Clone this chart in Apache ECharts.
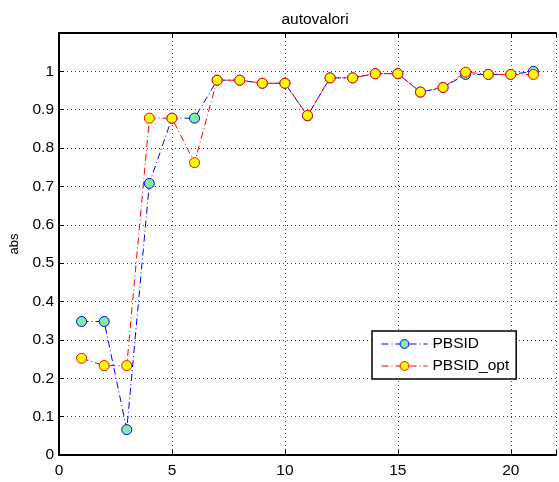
<!DOCTYPE html>
<html>
<head>
<meta charset="utf-8">
<script src="https://cdn.jsdelivr.net/npm/echarts@6/dist/echarts.min.js"></script>
<style>
  html, body { margin: 0; padding: 0; background: #fff; }
  #chart { width: 559px; height: 482px; }
</style>
</head>
<body>
<div id="chart"></div>
<script>
// Eigenvalue magnitudes per index for the two identification methods
const indices = [1, 2, 3, 4, 5, 6, 7, 8, 9, 10, 11, 12, 13, 14, 15, 16, 17, 18, 19, 20, 21];
const pbsid = [0.348, 0.348, 0.066, 0.708, 0.878, 0.878, 0.977, 0.977, 0.969, 0.969, 0.884,
               0.983, 0.983, 0.994, 0.994, 0.946, 0.958, 0.992, 0.992, 0.992, 1.0];
const pbsidOpt = [0.252, 0.233, 0.233, 0.878, 0.878, 0.762, 0.977, 0.977, 0.969, 0.969, 0.885,
                  0.983, 0.983, 0.994, 0.994, 0.946, 0.958, 0.998, 0.992, 0.992, 0.992];
const seriesNames = ['PBSID', 'PBSID_opt'];
const chartTitle = 'autovalori';
const yName = 'abs';

const FONT = 'Liberation Sans, Arial, Helvetica, sans-serif';
const FS = 15.5;
const pair = (xs, ys) => xs.map((x, i) => [x, ys[i]]);

// marker and line styles shared by the plot and the legend
const styles = [
  { fill: '#7ff0a0', edge: '#0000ff' },
  { fill: '#ffff00', edge: '#ff0000' }
];
const dashDot = [7, 3, 1, 3];

const chart = echarts.init(document.getElementById('chart'), null, { renderer: 'canvas' });

const dotted = { show: true, lineStyle: { color: '#444', width: 1, type: [1, 3] } };

chart.setOption({
  animation: false,
  backgroundColor: '#fff',
  textStyle: { fontFamily: FONT },
  title: {
    text: chartTitle,
    left: 310,
    textAlign: 'center',
    top: 7,
    textStyle: { fontFamily: FONT, fontSize: FS, fontWeight: 'normal', color: '#000' }
  },
  grid: {
    left: 57, top: 33, width: 506, height: 422,
    show: false
  },
  legend: {
    orient: 'vertical',
    left: 372,
    top: 331,
    padding: [5, 7, 5, 9],
    itemGap: 6,
    itemWidth: 46,
    itemHeight: 11,
    borderColor: '#000',
    borderWidth: 1.5,
    backgroundColor: '#fff',
    textStyle: { fontFamily: FONT, fontSize: FS, color: '#000', lineHeight: 16 },
    data: seriesNames.map((name, i) => ({
      name,
      itemStyle: { color: styles[i].fill, borderColor: styles[i].edge, borderWidth: 1 },
      lineStyle: { color: styles[i].edge, width: 1, type: dashDot }
    }))
  },
  xAxis: [{
    type: 'value',
    min: 0, max: 22, interval: 5,
    axisLine: { show: true, onZero: false, lineStyle: { color: '#000', width: 2 } },
    axisTick: { show: true, inside: true, length: 5, lineStyle: { color: '#000', width: 1 } },
    axisLabel: {
      fontFamily: FONT, fontSize: FS, color: '#000', margin: 8,
      formatter: v => (v % 5 === 0 ? String(v) : '')
    },
    splitLine: dotted
  }, {
    type: 'value',
    position: 'top',
    min: 0, max: 22, interval: 5,
    axisLine: { show: true, onZero: false, lineStyle: { color: '#000', width: 2 } },
    axisTick: { show: true, inside: true, length: 5, lineStyle: { color: '#000', width: 1 } },
    axisLabel: { show: false },
    splitLine: { show: false }
  }],
  yAxis: {
    type: 'value',
    min: 0, max: 1.1, interval: 0.1,
    name: yName,
    nameLocation: 'middle',
    nameRotate: 90,
    nameGap: 38,
    nameTextStyle: { fontFamily: FONT, fontSize: 13, color: '#000' },
    axisLine: { show: true, onZero: false, lineStyle: { color: '#000', width: 2 } },
    axisTick: { show: true, inside: true, length: 5, lineStyle: { color: '#000', width: 1 } },
    axisLabel: {
      fontFamily: FONT, fontSize: FS, color: '#000', margin: 5,
      formatter: v => (v > 1.05 ? '' : String(Math.round(v * 10) / 10))
    },
    splitLine: dotted
  },
  series: [pbsid, pbsidOpt].map((vals, i) => ({
    name: seriesNames[i],
    type: 'line',
    data: pair(indices, vals),
    symbol: 'circle',
    symbolSize: 10,
    itemStyle: { color: styles[i].fill, borderColor: styles[i].edge, borderWidth: 1 },
    lineStyle: { color: styles[i].edge, width: 1, type: dashDot },
    z: 2 + i
  }))
});
</script>
</body>
</html>
